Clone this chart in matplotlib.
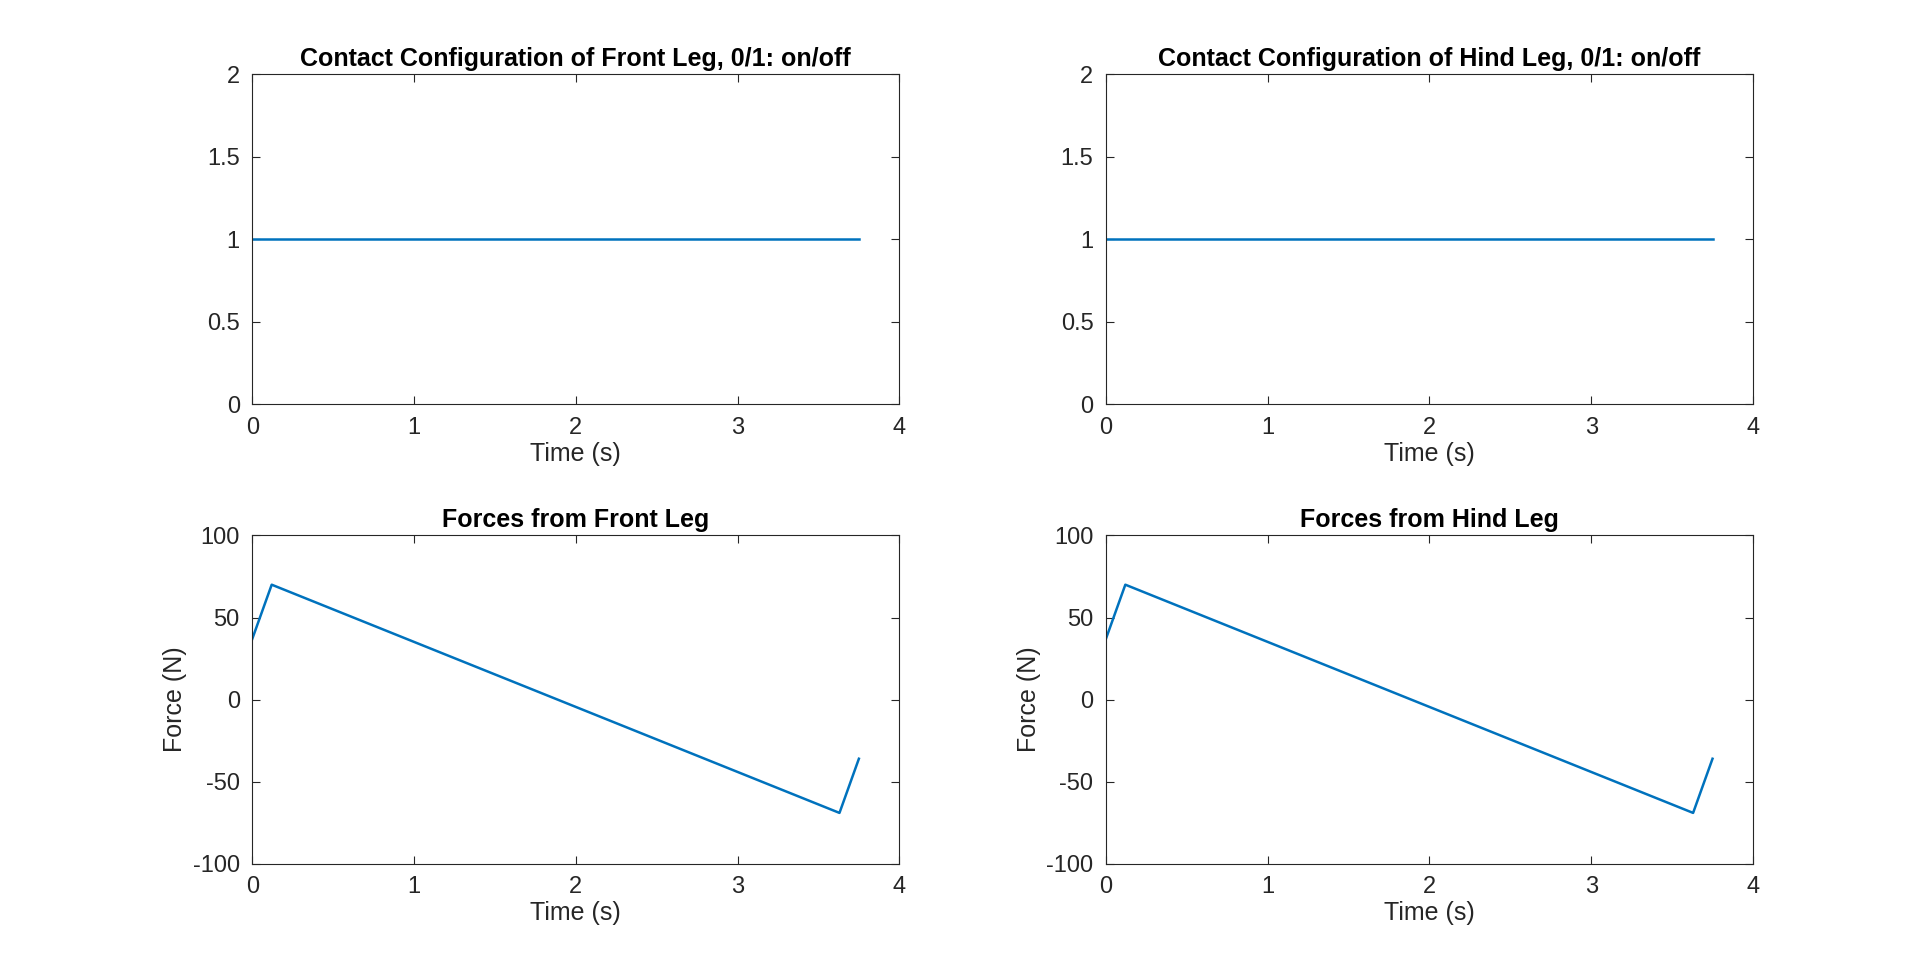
import matplotlib
matplotlib.use("Agg")
import matplotlib.pyplot as plt

plt.rcParams["font.family"] = ["Liberation Sans", "DejaVu Sans"]
plt.rcParams["axes.unicode_minus"] = False

contact_t = [0.0, 3.75]
contact_front = [1, 1]
contact_hind = [1, 1]

force_t = [0.0, 0.12, 3.63, 3.75]
force_front = [37, 70, -69, -36]
force_hind = [37, 70, -69, -36]

blue = "#0072BD"
fig = plt.figure(figsize=(19.2, 9.63), dpi=100)

boxes = {
    "tl": [0.1314, 0.580, 0.337, 0.343],
    "tr": [0.576, 0.580, 0.337, 0.343],
    "bl": [0.1314, 0.103, 0.337, 0.341],
    "br": [0.576, 0.103, 0.337, 0.341],
}


def style(ax):
    ax.tick_params(direction="in", top=True, right=True, labelsize=17,
                   length=6, width=0.8, colors="#262626", pad=9)
    for s in ax.spines.values():
        s.set_linewidth(0.8)
        s.set_color("#262626")
    ax.set_xlim(0, 4)
    ax.set_xticks([0, 1, 2, 3, 4])
    ax.set_xlabel("Time (s)", fontsize=18, color="#262626", labelpad=2)


for key, y, name in [("tl", contact_front, "Front"), ("tr", contact_hind, "Hind")]:
    ax = fig.add_axes(boxes[key])
    ax.plot(contact_t, y, color=blue, lw=1.8)
    ax.set_ylim(0, 2)
    ax.set_yticks([0, 0.5, 1, 1.5, 2])
    ax.set_yticklabels(["0", "0.5", "1", "1.5", "2"])
    ax.set_title(f"Contact Configuration of {name} Leg, 0/1: on/off",
                 fontsize=18, fontweight="bold", pad=6)
    style(ax)

for key, y, name in [("bl", force_front, "Front"), ("br", force_hind, "Hind")]:
    ax = fig.add_axes(boxes[key])
    ax.plot(force_t, y, color=blue, lw=1.8)
    ax.set_ylim(-100, 100)
    ax.set_yticks([-100, -50, 0, 50, 100])
    ax.set_ylabel("Force (N)", fontsize=18, color="#262626")
    ax.set_title(f"Forces from {name} Leg", fontsize=18, fontweight="bold", pad=6)
    style(ax)

fig.savefig("out.png", dpi=100, facecolor="white")
